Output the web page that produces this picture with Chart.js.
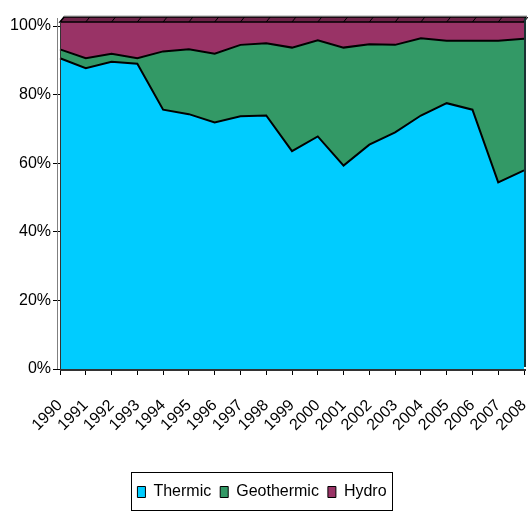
<!DOCTYPE html>
<html>
<head>
<meta charset="utf-8">
<script src="https://cdn.jsdelivr.net/npm/chart.js@4/dist/chart.umd.min.js"></script>
<style>
html,body{margin:0;padding:0;background:#fff;}
#wrap{width:528px;height:512px;position:relative;}
</style>
</head>
<body>
<div id="wrap"><canvas id="c" width="528" height="512"></canvas></div>
<script>
const years = ['1990','1991','1992','1993','1994','1995','1996','1997','1998','1999','2000','2001','2002','2003','2004','2005','2006','2007','2008'];
const thermic    = [90.6,87.7,89.6,89.0,75.6,74.3,71.9,73.7,73.9,63.5,67.8,59.3,65.4,69.0,73.9,77.5,75.6,54.4,57.9];
const geothermic = [2.6,2.9,2.3,1.6,17.0,18.9,20.0,20.8,21.1,30.2,28.0,34.4,29.3,25.5,22.5,18.2,20.1,41.3,38.4];
const hydro      = [6.8,9.4,8.1,9.4,7.4,6.8,8.1,5.5,5.0,6.3,4.2,6.3,5.3,5.5,3.6,4.3,4.3,4.3,3.7];
const yTicks = [0,20,40,60,80,100];

const FONT = "'Liberation Sans', Arial, sans-serif";

const framePlugin = {
  id: 'frame',
  afterDatasetsDraw(chart) {
    const ctx = chart.ctx, a = chart.chartArea;
    const xs = chart.scales.x;
    ctx.save();
    const d = 4;
    ctx.fillStyle = '#993366';
    ctx.fillRect(a.left, a.top - d, a.right - a.left, d);
    ctx.fillStyle = '#6e2348';
    ctx.beginPath();
    ctx.moveTo(a.left, a.top - d);
    ctx.lineTo(a.left + 4, a.top - d - 5);
    ctx.lineTo(a.right + 2, a.top - d - 5);
    ctx.lineTo(a.right, a.top - d);
    ctx.closePath();
    ctx.fill();
    ctx.strokeStyle = '#000';
    ctx.lineWidth = 1.5;
    ctx.stroke();
    ctx.lineWidth = 1;
    for (let i = 0; i < years.length; i++) {
      const x = xs.getPixelForValue(i);
      ctx.beginPath();
      ctx.moveTo(x, a.top - d);
      ctx.lineTo(x + 4, a.top - d - 5);
      ctx.stroke();
    }
    ctx.strokeStyle = '#a0a0a0';
    ctx.beginPath();
    ctx.moveTo(a.left + 4, a.top - d - 6);
    ctx.lineTo(a.right + 3, a.top - d - 6);
    ctx.stroke();
    ctx.strokeStyle = '#808080';
    ctx.beginPath();
    ctx.moveTo(a.left - 2.5, a.top - d - 4);
    ctx.lineTo(a.left - 2.5, a.bottom);
    ctx.stroke();
    ctx.strokeStyle = '#333';
    ctx.beginPath();
    ctx.moveTo(a.left + 0.5, a.top - d);
    ctx.lineTo(a.left + 0.5, a.bottom);
    ctx.stroke();
    ctx.strokeStyle = '#1a3333';
    ctx.lineWidth = 2;
    ctx.beginPath();
    ctx.moveTo(a.right + 1, a.top - d - 4);
    ctx.lineTo(a.right + 1, a.bottom - 2);
    ctx.stroke();
    ctx.strokeStyle = '#333';
    ctx.lineWidth = 2;
    ctx.beginPath();
    ctx.moveTo(a.left, a.bottom + 1);
    ctx.lineTo(a.right + 2, a.bottom + 1);
    ctx.stroke();
    ctx.restore();
  },
  afterDraw(chart) {
    const lg = chart.legend;
    if (!lg || !lg.legendHitBoxes || !lg.legendHitBoxes.length) return;
    const hb = lg.legendHitBoxes;
    let minX = Infinity, maxX = -Infinity, cy = 0;
    hb.forEach(h => { minX = Math.min(minX, h.left); maxX = Math.max(maxX, h.left + h.width); cy += h.top + h.height / 2; });
    cy /= hb.length;
    const ctx = chart.ctx;
    ctx.save();
    ctx.strokeStyle = '#000';
    ctx.lineWidth = 1;
    ctx.strokeRect(Math.round(minX - 6) + 0.5, Math.round(cy - 20) + 0.5, Math.round(maxX - minX + 12), 38);
    ctx.restore();
  }
};

new Chart(document.getElementById('c'), {
  type: 'line',
  data: {
    labels: years,
    datasets: [
      { label: 'Thermic', data: thermic, backgroundColor: '#00CCFF', borderColor: '#000', borderWidth: 2, fill: 'origin', pointRadius: 0, tension: 0 },
      { label: 'Geothermic', data: geothermic, backgroundColor: '#339966', borderColor: '#000', borderWidth: 2, fill: '-1', pointRadius: 0, tension: 0 },
      { label: 'Hydro', data: hydro, backgroundColor: '#993366', borderColor: '#993366', borderWidth: 0, fill: '-1', pointRadius: 0, tension: 0 }
    ]
  },
  options: {
    responsive: false,
    animation: false,
    devicePixelRatio: 1,
    layout: { padding: { left: 0, right: 4, top: 26, bottom: 2 } },
    plugins: {
      tooltip: { enabled: false },
      legend: {
        position: 'bottom',
        labels: {
          boxWidth: 8, boxHeight: 11, padding: 9,
          color: '#000',
          font: { family: FONT, size: 16 },
          generateLabels(chart) {
            return chart.data.datasets.map((ds, i) => ({
              text: ds.label, fillStyle: ds.backgroundColor, strokeStyle: '#000', lineWidth: 1, datasetIndex: i, hidden: false
            }));
          }
        }
      }
    },
    scales: {
      x: {
        type: 'category',
        offset: false,
        grid: { drawOnChartArea: false, drawTicks: true, tickLength: 6, color: '#000' },
        border: { display: false },
        ticks: { maxRotation: 45, minRotation: 45, autoSkip: false, color: '#000', padding: 21, font: { family: FONT, size: 16 } },
        afterFit(s) { s.height = 106; s.paddingLeft = 0; s.paddingRight = 0; }
      },
      y: {
        stacked: true,
        min: 0, max: 100,
        afterBuildTicks(s) { s.ticks = yTicks.map(v => ({ value: v })); },
        grid: { drawOnChartArea: false, drawTicks: true, tickLength: 7, color: '#000' },
        border: { display: false },
        ticks: { color: '#000', padding: 2, font: { family: FONT, size: 16 }, callback: v => v + '%' },
        afterFit(s) { s.width = 60; }
      }
    }
  },
  plugins: [framePlugin]
});
</script>
</body>
</html>
